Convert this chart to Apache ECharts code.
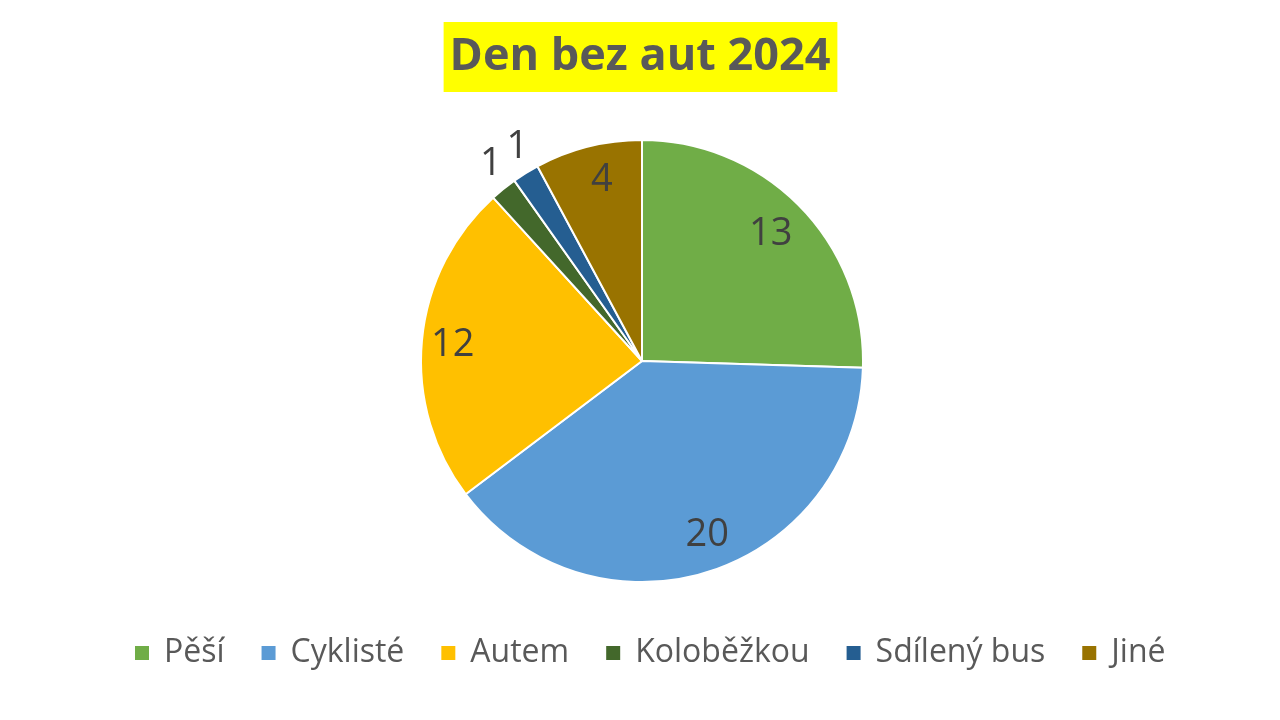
<!DOCTYPE html>
<html><head><meta charset="utf-8">
<script src="https://cdn.jsdelivr.net/npm/echarts@6/dist/echarts.min.js"></script>
<style>html,body{margin:0;padding:0;background:#fff}#c{width:1280px;height:720px}</style>
</head><body><div id="c"></div>
<script>
const categories = ['Pěší', 'Cyklisté', 'Autem', 'Koloběžkou', 'Sdílený bus', 'Jiné'];
const values = [13, 20, 12, 1, 1, 4];
const colors = ['#70AD47', '#5B9BD5', '#FFC000', '#43682B', '#255E91', '#997300'];
const titleText = 'Den bez aut 2024';
// small label nudges (layout only)
const labelNudge = [[-7, 5], [8, -6], [-1, 2], [8, 1], [9, 2], [6, 2]];

const chart = echarts.init(document.getElementById('c'));
const center = [642, 361];
const R = 221;
const baseData = categories.map((n, i) => ({ name: n, value: values[i], itemStyle: { color: colors[i] } }));
const labelFont = { fontFamily: 'Open Sans', fontSize: 38, color: '#404040' };

function labelData(suffix, pred) {
  return categories.map((n, i) => ({
    name: n + suffix, value: values[i],
    label: { show: pred(values[i]), offset: labelNudge[i] }
  }));
}

chart.setOption({
  animation: false,
  title: {
    text: titleText, left: 'center', top: 22,
    backgroundColor: '#FFFF00', padding: [13, 7, 12, 6],
    textStyle: { fontFamily: 'Open Sans', fontWeight: 'bold', fontSize: 45, color: '#595959' }
  },
  legend: {
    bottom: 46, left: 128, itemWidth: 16, itemHeight: 16, itemGap: 35, icon: 'rect',
    textStyle: { fontFamily: 'Open Sans', fontSize: 32, color: '#595959', padding: [0, 0, 0, 9] },
    data: categories
  },
  series: [
    {
      type: 'pie', center: center, radius: R, startAngle: 90, clockwise: true,
      itemStyle: { borderColor: '#fff', borderWidth: 2 },
      label: { show: false }, labelLine: { show: false }, silent: true,
      data: baseData
    },
    {
      type: 'pie', center: center, radius: [150, 222], startAngle: 90, clockwise: true,
      silent: true, legendHoverLink: false,
      itemStyle: { color: 'transparent' }, labelLine: { show: false },
      label: Object.assign({ position: 'inside', formatter: p => String(p.value) }, labelFont),
      data: labelData(' ', v => v > 1)
    },
    {
      type: 'pie', center: center, radius: [240, 262], startAngle: 90, clockwise: true,
      silent: true, legendHoverLink: false,
      itemStyle: { color: 'transparent' }, labelLine: { show: false },
      label: Object.assign({ position: 'inside', formatter: p => String(p.value) }, labelFont),
      data: labelData('  ', v => v === 1)
    }
  ]
});
</script></body></html>
